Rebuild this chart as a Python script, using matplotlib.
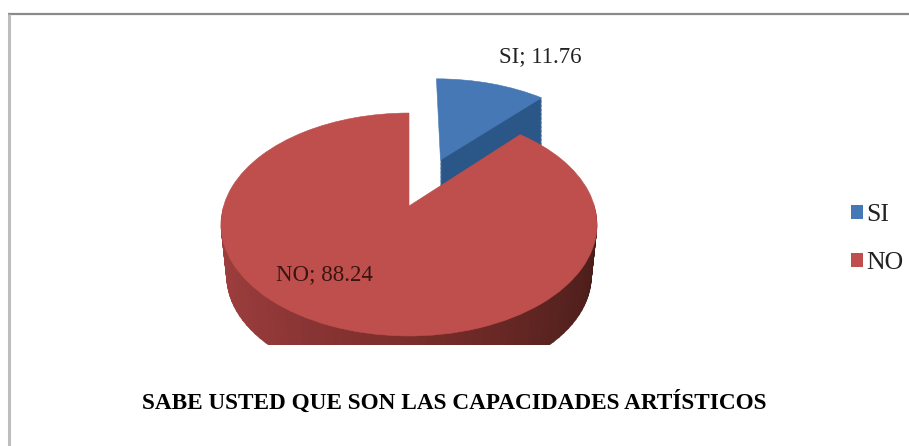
import numpy as np
import matplotlib
matplotlib.use("Agg")
import matplotlib.pyplot as plt
from matplotlib.patches import Patch
from matplotlib.transforms import Transform
from matplotlib.colors import LinearSegmentedColormap

categories = ["SI", "NO"]
values = [11.76, 88.24]
title = "SABE USTED QUE SON LAS CAPACIDADES ARTÍSTICOS"
colors = ["#4678B5", "#BE4F4C"]
SERIF = ["Liberation Serif", "DejaVu Serif"]

W, H = 909, 446
CLIP_Y = 345


class Tilt(Transform):
    """Perspective view of a unit-circle pie, with a drop for the side wall."""
    input_dims = output_dims = 2
    is_affine = False

    def __init__(self, t=0.0, shrink=0.03, dx=0.0):
        super().__init__()
        self.t = t
        self.shrink = shrink
        self.dx = dx

    def transform_non_affine(self, xy):
        xy = np.asarray(xy, float)
        w = 1 + 0.166 * xy[:, 1]
        s = 1 - self.shrink * self.t
        return np.column_stack([409 + self.dx + s * 185.4 * xy[:, 0] / w,
                                206 - s * 108.4 * xy[:, 1] / w + 52 * self.t])

    def inverted(self):
        raise NotImplementedError


fig = plt.figure(figsize=(W / 100, H / 100), dpi=100, facecolor="white")
ax = fig.add_axes([0, (H - CLIP_Y) / H, 1, CLIP_Y / H])
ax.set_axis_off()

explode = [0.49, 0.0]


def main_pie(tilt, cols):
    wedges, _ = ax.pie(values, startangle=90, counterclock=False, explode=explode,
                       colors=cols, wedgeprops=dict(linewidth=0.4))
    for w_, c in zip(wedges, cols):
        w_.set_edgecolor(c)
        w_.set_clip_on(True)
        w_.set_transform(tilt + ax.transData)
    return wedges


# SI: side wall (narrowed so that it only shows under the lower radial edge), then top face
for t in np.linspace(1, 0.02, 40):
    si, no = main_pie(Tilt(t, shrink=0.0, dx=1), ["#2B5688", "none"])
    no.remove()
    si.set_theta2(si.theta1 + 20)
si, no = main_pie(Tilt(0, dx=1), [colors[0], "none"])
no.remove()

# NO: shaded side wall along the front half
wall = LinearSegmentedColormap.from_list(
    "wall", ["#A5423F", "#93393A", "#7A2E2B", "#5A2320", "#431A17"])
n_seg = 72
seg = np.ones(n_seg)
seg_cols = [wall(i / (n_seg - 1)) for i in range(n_seg)]
for t in np.linspace(1, 0.02, 44):
    wedges, _ = ax.pie(seg, startangle=180, counterclock=True,
                       colors=seg_cols, wedgeprops=dict(linewidth=0.4))
    for i, w_ in enumerate(wedges):
        w_.set_theta1(180 + 180 * i / n_seg)
        w_.set_theta2(180 + 180 * (i + 1) / n_seg + 0.5)
        w_.set_edgecolor(seg_cols[i])
        w_.set_clip_on(True)
        w_.set_transform(Tilt(t) + ax.transData)

# NO: top face
si, no = main_pie(Tilt(0), ["none", colors[1]])
si.remove()

ax.set_aspect("auto")
ax.set_xlim(0, W)
ax.set_ylim(CLIP_Y, 0)

# Overlay in pixel coordinates for text and frame
ov = fig.add_axes([0, 0, 1, 1], facecolor="none")
ov.set_axis_off()
ov.set_xlim(0, W)
ov.set_ylim(H, 0)
ov.plot([8, W], [14, 14], color="#8A8A8A", lw=1.6, solid_capstyle="butt")
ov.plot([9, 9], [14, H], color="#BDBDBD", lw=2.2, solid_capstyle="butt")

ov.text(540, 57, f"{categories[0]}; {values[0]}", family=SERIF, fontsize=16.5,
        ha="center", va="center", color="#222222")
ov.text(324, 275, f"{categories[1]}; {values[1]}", family=SERIF, fontsize=16.5,
        ha="center", va="center", color="#3A1512")
ov.text(454, 402, title, family=SERIF, fontsize=16.75, fontweight="bold",
        ha="center", va="center", color="black")

handles = [Patch(facecolor=c, edgecolor="none") for c in colors]
fig.legend(handles, categories, loc="center left",
           bbox_to_anchor=(851 / W, 1 - 239 / H), frameon=False,
           prop={"family": SERIF, "size": 18.5}, handlelength=0.47, handleheight=0.47,
           handletextpad=0.12, labelspacing=1.0, borderpad=0, borderaxespad=0,
           labelcolor="#222222")

fig.savefig("out.png", dpi=100)
